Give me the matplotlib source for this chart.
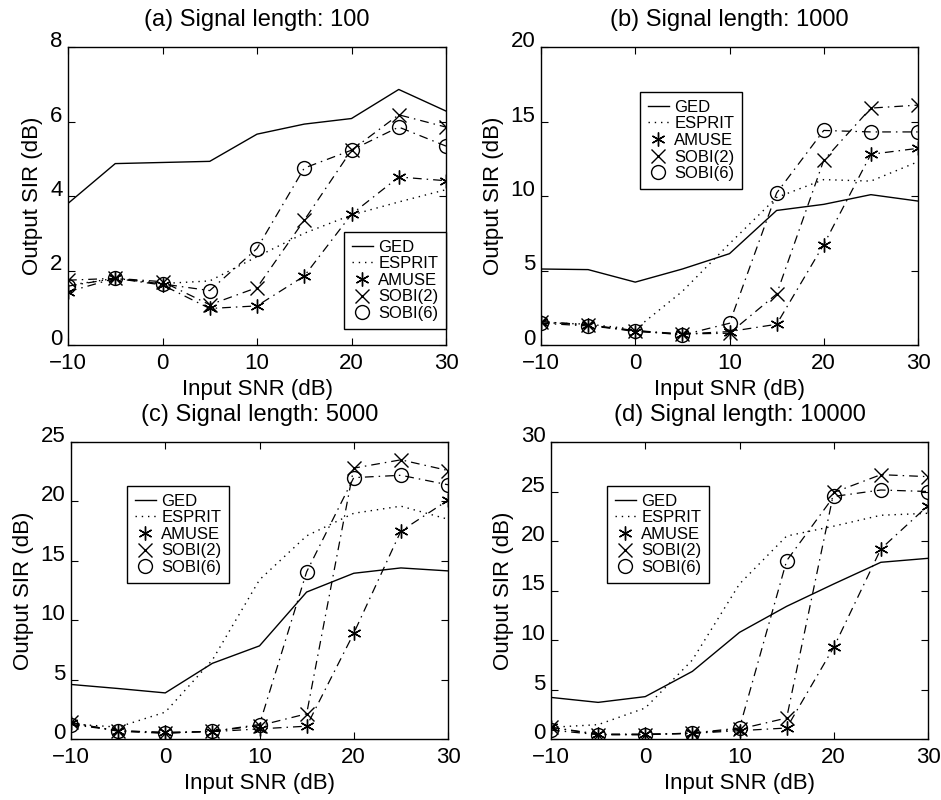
import matplotlib
matplotlib.use("Agg")
import matplotlib.pyplot as plt
from matplotlib.lines import Line2D

plt.rcParams['font.family'] = ['Liberation Sans', 'DejaVu Sans']

snr = [-10, -5, 0, 5, 10, 15, 20, 25, 30]
xticks = [-10, 0, 10, 20, 30]

titles = ["(a) Signal length: 100", "(b) Signal length: 1000",
          "(c) Signal length: 5000", "(d) Signal length: 10000"]
ylims = [8, 20, 25, 30]
yticks = [[0, 2, 4, 6, 8], [0, 5, 10, 15, 20], [0, 5, 10, 15, 20, 25],
          [0, 5, 10, 15, 20, 25, 30]]

# (a) length 100
ged_a = [3.80, 4.87, 4.90, 4.93, 5.66, 5.93, 6.08, 6.86, 6.28]
esprit_a = [1.60, 1.79, 1.65, 1.72, 2.37, 3.00, 3.49, 3.84, 4.17]
amuse_a = [1.43, 1.79, 1.61, 0.98, 1.05, 1.85, 3.51, 4.51, 4.41]
sobi2_a = [1.74, 1.79, 1.70, 1.08, 1.54, 3.35, 5.23, 6.18, 5.85]
sobi6_a = [1.58, 1.79, 1.64, 1.46, 2.59, 4.75, 5.23, 5.85, 5.34]

# (b) length 1000
ged_b = [5.10, 5.06, 4.22, 5.10, 6.13, 9.03, 9.44, 10.09, 9.66]
esprit_b = [1.50, 1.40, 1.05, 3.60, 6.80, 9.90, 11.10, 11.00, 12.30]
amuse_b = [1.57, 1.35, 0.90, 0.74, 0.90, 1.39, 6.74, 12.80, 13.20]
sobi2_b = [1.57, 1.35, 0.97, 0.74, 0.79, 3.42, 12.40, 15.90, 16.10]
sobi6_b = [1.46, 1.28, 0.97, 0.67, 1.46, 10.20, 14.40, 14.30, 14.30]

# (c) length 5000
ged_c = [4.59, 4.25, 3.88, 6.37, 7.84, 12.37, 13.95, 14.40, 14.15]
esprit_c = [1.27, 1.00, 2.26, 6.65, 13.40, 17.10, 19.00, 19.60, 18.50]
amuse_c = [1.33, 0.70, 0.57, 0.62, 0.85, 1.08, 8.90, 17.50, 20.10]
sobi2_c = [1.40, 0.65, 0.48, 0.65, 1.13, 2.12, 22.80, 23.50, 22.60]
sobi6_c = [1.22, 0.70, 0.51, 0.65, 1.22, 14.07, 22.00, 22.20, 21.40]

# (d) length 10000
ged_d = [4.20, 3.70, 4.28, 6.83, 10.77, 13.40, 15.66, 17.85, 18.25]
esprit_d = [1.18, 1.45, 3.13, 7.98, 15.66, 20.50, 21.50, 22.60, 22.80]
amuse_d = [1.18, 0.50, 0.50, 0.57, 0.84, 1.11, 9.26, 19.20, 23.57]
sobi2_d = [1.18, 0.44, 0.44, 0.57, 1.00, 2.12, 24.90, 26.70, 26.50]
sobi6_d = [0.90, 0.44, 0.44, 0.60, 1.11, 18.00, 24.50, 25.15, 25.00]

data = [
    (ged_a, esprit_a, amuse_a, sobi2_a, sobi6_a),
    (ged_b, esprit_b, amuse_b, sobi2_b, sobi6_b),
    (ged_c, esprit_c, amuse_c, sobi2_c, sobi6_c),
    (ged_d, esprit_d, amuse_d, sobi2_d, sobi6_d),
]

W, H = 941, 800
# axes boxes in pixels: left, top, right, bottom
boxes = [(68, 47, 446, 345), (541, 47, 918, 345),
         (71, 442, 448, 739), (551, 442, 928, 739)]
# legend boxes (upper-left corner in pixels)
leg_pos = [(344, 232), (640, 92), (127, 486), (607, 486)]

fig = plt.figure(figsize=(W / 100, H / 100), dpi=100)

dashdot = (0, (7, 4, 1.2, 4))
star = (6, 2, 0)

for i, (l, t, r, b) in enumerate(boxes):
    ax = fig.add_axes([l / W, 1 - b / H, (r - l) / W, (b - t) / H])
    ged, esp, amu, s2, s6 = data[i]
    ax.plot(snr, ged, color='black', lw=1.0, ls='-')
    ax.plot(snr, esp, color='black', lw=1.0, ls=(0, (1, 3.5)))
    ax.plot(snr, amu, color='black', lw=0.9, ls=dashdot, marker=star,
            markersize=10, markeredgewidth=1.0, fillstyle='none')
    ax.plot(snr, s2, color='black', lw=0.9, ls=dashdot, marker='x',
            markersize=10, markeredgewidth=1.0)
    ax.plot(snr, s6, color='black', lw=0.9, ls=dashdot, marker='o',
            markersize=10, markeredgewidth=1.0, markerfacecolor='none')
    ax.set_xlim(-10, 30)
    ax.set_ylim(0, ylims[i])
    ax.set_xticks(xticks)
    ax.set_yticks(yticks[i])
    ax.set_xticklabels([str(v).replace('-', '\u2212') for v in xticks])
    ax.set_yticklabels([str(v) for v in yticks[i]], va='baseline')
    ax.tick_params(direction='in', top=True, right=True, labelsize=16,
                   length=5, width=0.8)
    ax.tick_params(axis='x', pad=6)
    ax.tick_params(axis='y', pad=4)
    for sp in ax.spines.values():
        sp.set_linewidth(1.0)
    ax.set_title(titles[i], fontsize=17, pad=15)
    ax.set_xlabel("Input SNR (dB)", fontsize=16, labelpad=3)
    ax.set_ylabel("Output SIR (dB)", fontsize=16, labelpad=5)

    handles = [
        Line2D([], [], color='black', lw=1.0, ls='-'),
        Line2D([], [], color='black', lw=1.0, ls=(0, (1, 3.5))),
        Line2D([], [], color='black', ls='None', marker=star, markersize=10,
               markeredgewidth=1.0),
        Line2D([], [], color='black', ls='None', marker='x', markersize=10,
               markeredgewidth=1.0),
        Line2D([], [], color='black', ls='None', marker='o', markersize=10,
               markeredgewidth=1.0, markerfacecolor='none'),
    ]
    labels = ["GED", "ESPRIT", "AMUSE", "SOBI(2)", "SOBI(6)"]
    lx, ly = leg_pos[i]
    fx = (lx - l) / (r - l)
    fy = (b - ly) / (b - t)
    leg = ax.legend(handles, labels, loc='upper left', bbox_to_anchor=(fx, fy),
                    fontsize=12, frameon=True, fancybox=False, framealpha=1,
                    edgecolor='black', handlelength=1.3, handletextpad=0.3,
                    labelspacing=0.1, borderpad=0.45, borderaxespad=0)
    leg.get_frame().set_linewidth(1.0)

fig.savefig("out.png", dpi=100)
